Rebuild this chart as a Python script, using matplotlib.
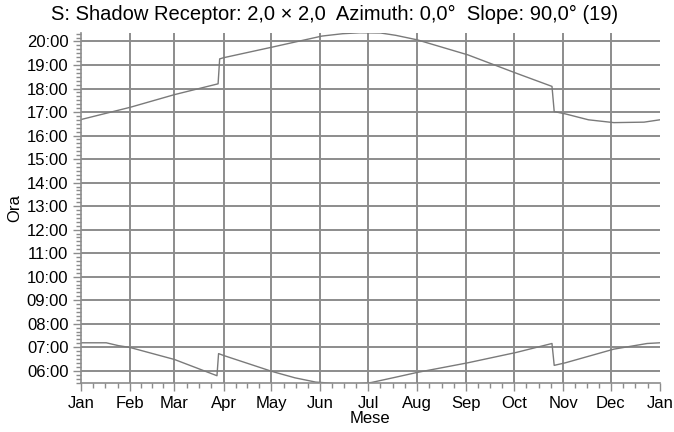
import numpy as np
import matplotlib
matplotlib.use("Agg")
from matplotlib import pyplot as plt

plt.rcParams['font.family'] = ['Liberation Sans', 'DejaVu Sans']

# month labels and first day of each month (day of year)
months = ["Jan", "Feb", "Mar", "Apr", "May", "Jun", "Jul", "Aug", "Sep", "Oct", "Nov", "Dec", "Jan"]
month_days = [0, 31, 59, 90, 120, 151, 181, 212, 243, 273, 304, 334, 365]

# end of shadow window (hours)
sunset_day = [0, 31, 59, 86.5, 87.5, 90, 120.6, 152, 165, 176, 189, 198.6, 212, 244, 274.5, 297, 298.4,
              305.5, 320, 336, 355, 365]
sunset_hour = [16.68, 17.20, 17.74, 18.20, 19.26, 19.31, 19.76, 20.23, 20.33, 20.37, 20.36, 20.26, 20.07,
               19.43, 18.65, 18.09, 17.02, 16.92, 16.67, 16.55, 16.57, 16.67]

# start of shadow window (hours)
sunrise_day = [0, 16, 23.6, 31, 59, 85.8, 86.8, 90, 120.6, 135, 148, 154, 165, 175, 183, 198, 212, 244,
               274.5, 297, 298.4, 305.5, 336, 357, 365]
sunrise_hour = [7.19, 7.19, 7.07, 6.99, 6.48, 5.79, 6.73, 6.65, 5.97, 5.70, 5.52, 5.49, 5.42, 5.45, 5.50,
                5.72, 5.93, 6.34, 6.78, 7.16, 6.23, 6.34, 6.92, 7.16, 7.19]

hour_ticks = list(range(6, 21))
hour_labels = ["%02d:00" % h for h in hour_ticks]

gray = "#8c8c8c"

fig = plt.figure(figsize=(6.74, 4.32), dpi=100)
ax = fig.add_axes([0.120, 0.1134, 0.859, 0.8102])

# grid drawn by hand: no vertical line at the right edge
for h in hour_ticks:
    ax.axhline(h, color=gray, lw=1.4, zorder=0)
for d in month_days[1:-1]:
    ax.axvline(d, color=gray, lw=1.4, zorder=0)

ax.plot(sunset_day, sunset_hour, color="#7a7a7a", lw=1.0)
ax.plot(sunrise_day, sunrise_hour, color="#7a7a7a", lw=1.0)

ax.set_xlim(0, 365)
ax.set_ylim(5.48, 20.36)

ax.set_xticks(month_days)
ax.set_xticklabels(months)
minor_x = []
for i in range(12):
    step = (month_days[i + 1] - month_days[i]) / 4.0
    for k in range(1, 4):
        minor_x.append(month_days[i] + k * step)
ax.set_xticks(minor_x, minor=True)

ax.set_yticks(hour_ticks)
ax.set_yticklabels(hour_labels)
ax.set_yticks(np.arange(5.5, 20.36, 1 / 6.0), minor=True)

for s in ["top", "right"]:
    ax.spines[s].set_visible(False)
for s in ["left", "bottom"]:
    ax.spines[s].set_color(gray)
    ax.spines[s].set_linewidth(1.2)

ax.tick_params(which="major", length=6, color=gray, width=1.0, labelsize=12, pad=3)
ax.tick_params(which="minor", length=3.5, color=gray, width=1.0)

ax.set_xlabel("Mese", fontsize=12, labelpad=0)
ax.set_ylabel("Ora", fontsize=12, labelpad=3)

fig.text(0.497, 0.967, "S: Shadow Receptor: 2,0 \u00d7 2,0  Azimuth: 0,0\u00b0  Slope: 90,0\u00b0 (19)",
         ha="center", va="center", fontsize=14.5)

fig.savefig("out.png", dpi=100)
